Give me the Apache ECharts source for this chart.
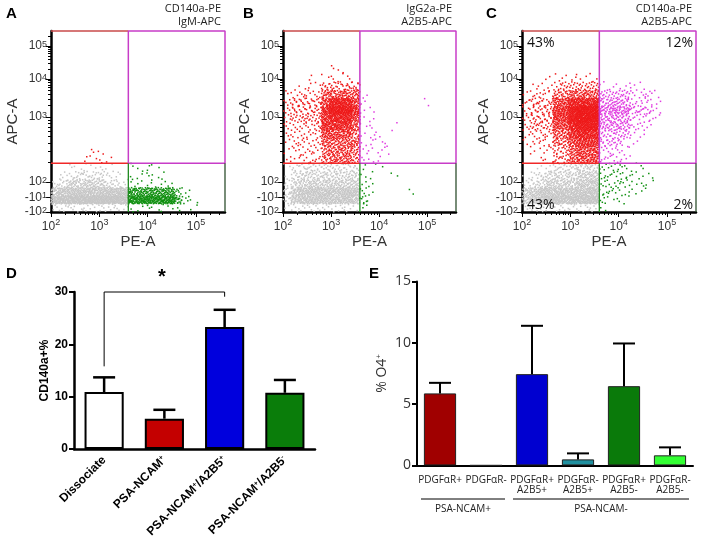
<!DOCTYPE html>
<html>
<head>
<meta charset="utf-8">
<title>Flow gates and bar charts</title>
<script src="https://cdn.jsdelivr.net/npm/echarts@6/dist/echarts.min.js"></script>
<style>
    *{margin:0;padding:0}
    html,body{width:100%;height:100%;overflow:hidden;background:#fff}
    #main{width:701px;height:540px}
</style>
</head>
<body>
<div id="main"></div>
<script>
// ---------- flow panels A-C ----------
// x = log10(PE-A), y = display units of the biexponential APC-A axis (0 bottom .. 100 top)
const flowXMin = 2, flowXMax = 5.6;
const flowXTicks = [2, 3, 4, 5];
const flowYTickPos = [0, 8.1, 16.6, 52.5, 73.5, 91.7];
const flowYTickText = ['-10|2', '-10|1', '10|2', '10|3', '10|4', '10|5'];
const gateX = 3.6, gateY = 27;
// density maps: 22 rows (top->bottom) x 22 cols, cell = 0.16 decade x 4.5 units
const cellW = 0.16, cellH = 4.5, mapTop = 99;
const densityCounts = [0, 2, 4, 8, 13, 19, 26, 34, 44, 56, 70, 86];

const mapA = [
    '0000000000000000000000','0000000000000000000000','0000000000000000000000','0000000000000000000000',
    '0000000000000000000000','0000000000000000000000','0000000000000000000000','0000000000000000000000',
    '0000000000000000000000','0000000000000000000000','0000000000000000000000','0000000000000000000000',
    '0000000000000000000000','0000000000000000000000',
    '0000011000000000000000',
    '0000111100000000000000',
    '0011111100111100000000',
    '0223333220111110000000',
    '2355555332111111000000',
    '6777777777666666310000',
    '8999999998888888521000',
    '2222222222111111101000'
];
const mapB = [
    '0000000000000000000000','0000000000000000000000','0000000000000000000000','0000000000000000000000',
    '0000001100000000000000',
    '0001011110000000000000',
    '0011133333000000000000',
    '1222255555100000000000',
    '2333368886100000001000',
    '2333379997110000000000',
    '2333378886110000000000',
    '2222377775110010000000',
    '1222266664111000000000',
    '1222255555111100000000',
    '1122245554111100000000',
    '1122245554111000000000',
    '1233333333101000000000',
    '1344444444110010000000',
    '2455555555110000000000',
    '3677777777210000100000',
    '3677777776300000000000',
    '1222222221100000000000'
];
const mapC = [
    '0000000000000000000000','0000000000000000000000','0000000000000000000000','0000000000000000000000',
    '0000000000000000000000',
    '0001111111000000000000',
    '0111233333111111000000',
    '1222445555333322210000',
    '2333668888444422210000',
    '2333779aaa555533310000',
    '2333779aaa444422210000',
    '2333668999444422100000',
    '1222557888333311000000',
    '1222446777333110000000',
    '0111335666222100000000',
    '0011335666222100000000',
    '0012333444222111000000',
    '1234444555222211100000',
    '2345555666222211100000',
    '5677777777222111000000',
    '5678888888211100000000',
    '1222222222100000000000'
];
const flowMaps = [mapA, mapB, mapC];
const flowTitles = [['CD140a-PE', 'IgM-APC'], ['IgG2a-PE', 'A2B5-APC'], ['CD140a-PE', 'A2B5-APC']];
const quadC = ['43%', '12%', '43%', '2%'];
const dotColors = {grey: '#c6c6c6', red: '#ee1a1a', magenta: '#e03ce0', green: '#119011'};

// ---------- panel D ----------
const dCats = ['Dissociate', 'PSA-NCAM{s|+}', 'PSA-NCAM{s|+}/A2B5{s|+}', 'PSA-NCAM{s|+}/A2B5{s|-}'];
const dMeans = [10.9, 5.8, 23.3, 10.75];
const dErr = [13.7, 7.5, 26.6, 13.2];
const dColors = ['#ffffff', '#c40000', '#0000dd', '#0a7d0a'];
const dBracket = [[0, 15.8], [0, 30], [2, 30], [2, 29.1]];

// ---------- panel E ----------
const eCats = ['PDGFαR+', 'PDGFαR-', 'PDGFαR+\nA2B5+', 'PDGFαR-\nA2B5+', 'PDGFαR+\nA2B5-', 'PDGFαR-\nA2B5-'];
const eMeans = [5.87, 0, 7.44, 0.49, 6.46, 0.82];
const eErr = [6.73, 0, 11.38, 0.98, 9.94, 1.47];
const eColors = ['#a00000', '#000000', '#0000d0', '#2090a0', '#0a7a0a', '#33ff33'];

let myChart = echarts.init(document.getElementById('main'), null, {renderer: 'canvas'});

// quasi-random (Halton) placement of the read-off counts inside each cell
function halton(i, b) {
    let f = 1, r = 0;
    while (i > 0) { f /= b; r += f * (i % b); i = Math.floor(i / b); }
    return r;
}
let hIdx = 1;
function cloud(map) {
    const out = {grey: [], red: [], magenta: [], green: []};
    map.forEach((row, r) => {
        for (let c = 0; c < row.length; c++) {
            const n = densityCounts[parseInt(row[c], 36)];
            const x0 = flowXMin + c * cellW, y0 = mapTop - (r + 1) * cellH;
            for (let k = 0; k < n; k++) {
                const x = x0 + cellW * halton(hIdx, 2), y = y0 + cellH * halton(hIdx, 3);
                hIdx++;
                const key = y >= gateY ? (x >= gateX ? 'magenta' : 'red') : (x >= gateX ? 'green' : 'grey');
                out[key].push([x, y]);
            }
        }
    });
    return out;
}

const flowGrids = [
    {left: 51, top: 31, width: 174, height: 181},
    {left: 283, top: 31, width: 173, height: 181},
    {left: 522, top: 31, width: 174, height: 181}
];
const gridD = {left: 74, top: 292, width: 241, height: 159};
const gridE = {left: 417, top: 281.4, width: 276, height: 184};

// minor tick positions
let xMinor = [];
for (let d = 2; d <= 5; d++) for (let k = 2; k <= 9; k++) {
    const v = d + Math.log10(k);
    if (v < flowXMax) xMinor.push(v);
}
let yMinor = [];
const yDec = [16.6, 52.5, 73.5, 91.7, 109.9];
for (let j = 0; j < 4; j++) for (let k = 2; k <= 9; k++) {
    const v = yDec[j] + (yDec[j + 1] - yDec[j]) * Math.log10(k);
    if (v < 100) yMinor.push(v);
}

const supRichX = {
    b: {fontSize: 12, color: '#333', lineHeight: 18, fontFamily: 'Liberation Sans'},
    s: {fontSize: 9, color: '#333', lineHeight: 10, verticalAlign: 'top', fontFamily: 'Liberation Sans'}
};
const supRichY = {
    b: {fontSize: 12, color: '#333', lineHeight: 12, fontFamily: 'Liberation Sans'},
    s: {fontSize: 9, color: '#333', lineHeight: 7, verticalAlign: 'top', fontFamily: 'Liberation Sans'}
};

let xAxes = [], yAxes = [], series = [], graphic = [];

flowGrids.forEach((g, gi) => {
    xAxes.push({
        type: 'value', gridIndex: gi, min: flowXMin, max: flowXMax,
        name: 'PE-A', nameLocation: 'middle', nameGap: 22,
        nameTextStyle: {fontSize: 15, color: '#333', fontFamily: 'Liberation Sans'},
        axisLine: {lineStyle: {color: '#000', width: 2.5}},
        axisTick: {customValues: flowXTicks, length: 5, lineStyle: {color: '#000'}},
        axisLabel: {customValues: flowXTicks, margin: 6, formatter: v => '{b|10}{s|' + Math.round(v) + '}', rich: supRichX},
        splitLine: {show: false}
    });
    yAxes.push({
        type: 'value', gridIndex: gi, min: 0, max: 100,
        name: 'APC-A', nameLocation: 'middle', nameGap: 30,
        nameTextStyle: {fontSize: 15, color: '#333', fontFamily: 'Liberation Sans'},
        axisLine: {lineStyle: {color: '#000', width: 2.5}},
        axisTick: {customValues: flowYTickPos, length: 5, lineStyle: {color: '#000'}},
        axisLabel: {
            customValues: flowYTickPos, margin: 4, showMinLabel: true, showMaxLabel: true, hideOverlap: false,
            formatter: v => {
                const i = flowYTickPos.findIndex(p => Math.abs(p - v) < 0.01);
                const t = flowYTickText[i].split('|');
                return '{b|' + t[0] + '}{s|' + t[1] + '}';
            },
            rich: supRichY
        },
        splitLine: {show: false}
    });
});
flowGrids.forEach((g, gi) => {
    xAxes.push({
        type: 'value', gridIndex: gi, min: flowXMin, max: flowXMax, position: 'bottom',
        axisLine: {show: false}, axisLabel: {show: false}, splitLine: {show: false},
        axisTick: {customValues: xMinor, length: 3, lineStyle: {color: '#000'}}
    });
    yAxes.push({
        type: 'value', gridIndex: gi, min: 0, max: 100, position: 'left',
        axisLine: {show: false}, axisLabel: {show: false}, splitLine: {show: false},
        axisTick: {customValues: yMinor, length: 3, lineStyle: {color: '#000'}}
    });
});

flowMaps.forEach((map, gi) => {
    const pts = cloud(map);
    ['grey', 'red', 'magenta', 'green'].forEach(key => {
        series.push({
            type: 'scatter', xAxisIndex: gi, yAxisIndex: gi, data: pts[key],
            symbol: 'rect', symbolSize: 1.5, silent: true, large: true, largeThreshold: 200,
            itemStyle: {color: dotColors[key], opacity: 1}
        });
    });
    const gateLine = (data, color, width) => ({
        type: 'line', xAxisIndex: gi, yAxisIndex: gi, data, symbol: 'none', silent: true, clip: false, z: 5,
        lineStyle: {color, width}
    });
    series.push(gateLine([[flowXMin, 100], [gateX, 100]], '#c84a4a', 1.5));
    series.push(gateLine([[flowXMin, gateY], [gateX, gateY]], '#f02828', 1.5));
    series.push(gateLine([[gateX, gateY], [gateX, 100], [flowXMax, 100], [flowXMax, gateY], [gateX, gateY]], '#c83cc8', 1.5));
    series.push(gateLine([[gateX, 0], [gateX, gateY]], '#1f8a1f', 1.3));
    series.push(gateLine([[flowXMax, 0], [flowXMax, gateY]], '#2f4f2f', 1.3));

    const g = flowGrids[gi];
    const right = g.left + g.width - 4;
    graphic.push({type: 'text', x: right, y: 9, style: {text: flowTitles[gi][0], align: 'right', verticalAlign: 'middle', fontSize: 11, fontFamily: 'Open Sans', fill: '#222'}});
    graphic.push({type: 'text', x: right, y: 22, style: {text: flowTitles[gi][1], align: 'right', verticalAlign: 'middle', fontSize: 11, fontFamily: 'Open Sans', fill: '#222'}});
});

// panel letters
[['A', 6, 6], ['B', 243, 6], ['C', 486, 6], ['D', 6, 266], ['E', 369, 266]].forEach(p => {
    graphic.push({type: 'text', x: p[1], y: p[2], style: {text: p[0], fontSize: 15, fontWeight: 'bold', fontFamily: 'Liberation Sans', fill: '#000'}});
});
// quadrant percentages in C
const qc = flowGrids[2];
[[quadC[0], qc.left + 5, 43, 'left'], [quadC[1], qc.left + qc.width - 3, 43, 'right'],
 [quadC[2], qc.left + 5, 205, 'left'], [quadC[3], qc.left + qc.width - 3, 205, 'right']].forEach(q => {
    graphic.push({type: 'text', x: q[1], y: q[2], z: 10, style: {text: q[0], align: q[3], verticalAlign: 'middle', fontSize: 14, fontFamily: 'Open Sans', fill: '#111'}});
});

// ---------- D axes/series ----------
function errBars(ai, means, tops, capW, lw) {
    return {
        type: 'custom', xAxisIndex: ai, yAxisIndex: ai, z: 3, silent: true,
        data: means.map((m, i) => [i, m, tops[i]]),
        renderItem: (params, api) => {
            const i = api.value(0), m = api.value(1), t = api.value(2);
            if (t <= m) return null;
            const p0 = api.coord([i, m]), p1 = api.coord([i, t]);
            return {type: 'group', children: [
                {type: 'line', shape: {x1: p0[0], y1: p0[1], x2: p1[0], y2: p1[1]}, style: {stroke: '#000', lineWidth: lw}},
                {type: 'line', shape: {x1: p1[0] - capW / 2, y1: p1[1], x2: p1[0] + capW / 2, y2: p1[1]}, style: {stroke: '#000', lineWidth: lw}}
            ]};
        }
    };
}

xAxes.push({
    type: 'category', gridIndex: 3, data: dCats,
    axisLine: {lineStyle: {color: '#000', width: 2.5}},
    axisTick: {alignWithLabel: true, length: 5, lineStyle: {color: '#000', width: 2}},
    axisLabel: {
        interval: 0, rotate: 45, margin: 9, fontSize: 12, fontWeight: 'bold', color: '#000', fontFamily: 'Liberation Sans',
        rich: {s: {fontSize: 7, fontWeight: 'bold', color: '#000', verticalAlign: 'top', lineHeight: 8}}
    }
});
yAxes.push({
    type: 'value', gridIndex: 3, min: 0, max: 30, interval: 10,
    name: 'CD140a+%', nameLocation: 'middle', nameGap: 22,
    nameTextStyle: {fontSize: 12, fontWeight: 'bold', color: '#000', fontFamily: 'Liberation Sans'},
    axisLine: {show: true, lineStyle: {color: '#000', width: 2.5}},
    axisTick: {show: true, length: 5, lineStyle: {color: '#000', width: 2}},
    axisLabel: {fontSize: 12, fontWeight: 'bold', color: '#000', margin: 6, fontFamily: 'Liberation Sans'},
    splitLine: {show: false}
});
series.push({
    type: 'bar', xAxisIndex: 6, yAxisIndex: 6, barWidth: '65%', z: 2,
    data: dMeans.map((v, i) => ({value: v, itemStyle: {color: dColors[i]}})),
    itemStyle: {borderColor: '#000', borderWidth: 2}
});
series.push(errBars(6, dMeans, dErr, 22, 2.5));
series.push({
    type: 'line', xAxisIndex: 6, yAxisIndex: 6, data: dBracket, symbol: 'none', clip: false, silent: true,
    lineStyle: {color: '#000', width: 1}
});
graphic.push({type: 'text', x: 162, y: 277, style: {text: '*', align: 'center', verticalAlign: 'middle', fontSize: 20, fontWeight: 'bold', fontFamily: 'Liberation Sans', fill: '#000'}});

// ---------- E axes/series ----------
xAxes.push({
    type: 'category', gridIndex: 4, data: eCats,
    axisLine: {lineStyle: {color: '#000', width: 2}},
    axisTick: {alignWithLabel: true, length: 5, lineStyle: {color: '#000', width: 2}},
    axisLabel: {interval: 0, margin: 10, fontSize: 10, lineHeight: 10, color: '#222', fontFamily: 'Open Sans'}
});
yAxes.push({
    type: 'value', gridIndex: 4, min: 0, max: 15, interval: 5,
    name: '% O4{s|+}', nameLocation: 'middle', nameGap: 28,
    nameTextStyle: {fontSize: 14, color: '#333', fontFamily: 'Open Sans',
        rich: {s: {fontSize: 8, color: '#333', verticalAlign: 'top', lineHeight: 9, fontFamily: 'Open Sans'}}},
    axisLine: {show: true, lineStyle: {color: '#000', width: 2}},
    axisTick: {show: true, length: 5, lineStyle: {color: '#000', width: 2}},
    axisLabel: {fontSize: 14, color: '#333', margin: 6, fontFamily: 'Open Sans'},
    splitLine: {show: false}
});
series.push({
    type: 'bar', xAxisIndex: 7, yAxisIndex: 7, barWidth: '70%', z: 2,
    data: eMeans.map((v, i) => ({value: v, itemStyle: {color: eColors[i]}})),
    itemStyle: {borderColor: '#222', borderWidth: 1}
});
series.push(errBars(7, eMeans, eErr, 22, 2));

// group brackets under E
const eBand = gridE.width / eCats.length;
[['PSA-NCAM+', 0, 1], ['PSA-NCAM-', 2, 5]].forEach(gp => {
    const x1 = gridE.left + gp[1] * eBand + 4, x2 = gridE.left + (gp[2] + 1) * eBand - 4;
    graphic.push({type: 'line', shape: {x1, y1: 499, x2, y2: 499}, style: {stroke: '#000', lineWidth: 1}});
    graphic.push({type: 'text', x: (x1 + x2) / 2, y: 509, style: {text: gp[0], align: 'center', verticalAlign: 'middle', fontSize: 10, fontFamily: 'Open Sans', fill: '#222'}});
});

let option = {
    animation: false,
    backgroundColor: '#fff',
    grid: [...flowGrids, gridD, gridE],
    xAxis: xAxes,
    yAxis: yAxes,
    series,
    graphic
};
myChart.setOption(option);
</script>
</body>
</html>
